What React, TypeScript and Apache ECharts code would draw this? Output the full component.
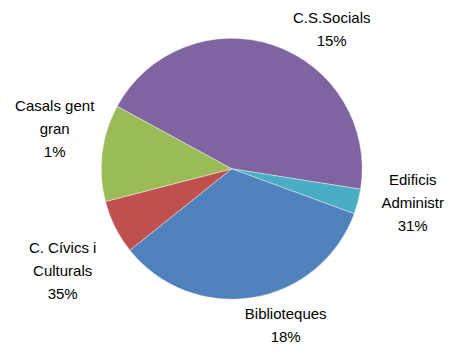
import React, { useEffect, useRef } from "react";
import * as echarts from "echarts";

const categories = ["C.S.Socials", "Edificis Administr", "Biblioteques", "C. Cívics i Culturals", "Casals gent gran"];
const labelLines = [
  ["C.S.Socials"],
  ["Edificis", "Administr"],
  ["Biblioteques"],
  ["C. Cívics i", "Culturals"],
  ["Casals gent", "gran"],
];
const sliceValues = [44.6, 3.1, 33.7, 6.7, 12.0];
const labelPercents = ["15%", "31%", "18%", "35%", "1%"];
const colors = ["#8064A2", "#4BACC6", "#4F81BD", "#C0504D", "#9BBB59"];
// label block centre offsets from the pie centre (px)
const labelOffsets = [
  [100, -140],
  [181, 34],
  [54, 156],
  [-169, 102],
  [-177, -40],
];

export default function App() {
  const ref = useRef<HTMLDivElement>(null);
  useEffect(() => {
    if (!ref.current) return;
    const chart = echarts.init(ref.current, null, { renderer: "svg" });
    chart.setOption({
      animation: false,
      backgroundColor: "#ffffff",
      series: [
        {
          type: "pie",
          center: [231.7, 168.8],
          radius: 130.5,
          startAngle: 151.4,
          clockwise: true,
          avoidLabelOverlap: false,
          data: categories.map((name, i) => ({
            name,
            value: sliceValues[i],
            itemStyle: { color: colors[i] },
          })),
          itemStyle: { borderColor: "#ffffff", borderWidth: 0.4 },
          label: {
            show: true,
            position: "center",
            formatter: (p: any) => [...labelLines[p.dataIndex], labelPercents[p.dataIndex]].join("\n"),
            color: "#000000",
            fontFamily: "'Liberation Sans', Arial, sans-serif",
            fontSize: 15,
            lineHeight: 23,
            align: "center",
            verticalAlign: "middle",
          },
          labelLine: { show: false },
          labelLayout: (p: any) => ({
            dx: labelOffsets[p.dataIndex][0],
            dy: labelOffsets[p.dataIndex][1],
          }),
          emphasis: { disabled: true },
        },
      ],
    });
    return () => chart.dispose();
  }, []);
  return (
    <div
      ref={ref}
      style={{ position: "absolute", left: 0, top: 0, width: 453, height: 352, background: "#fff" }}
    />
  );
}
